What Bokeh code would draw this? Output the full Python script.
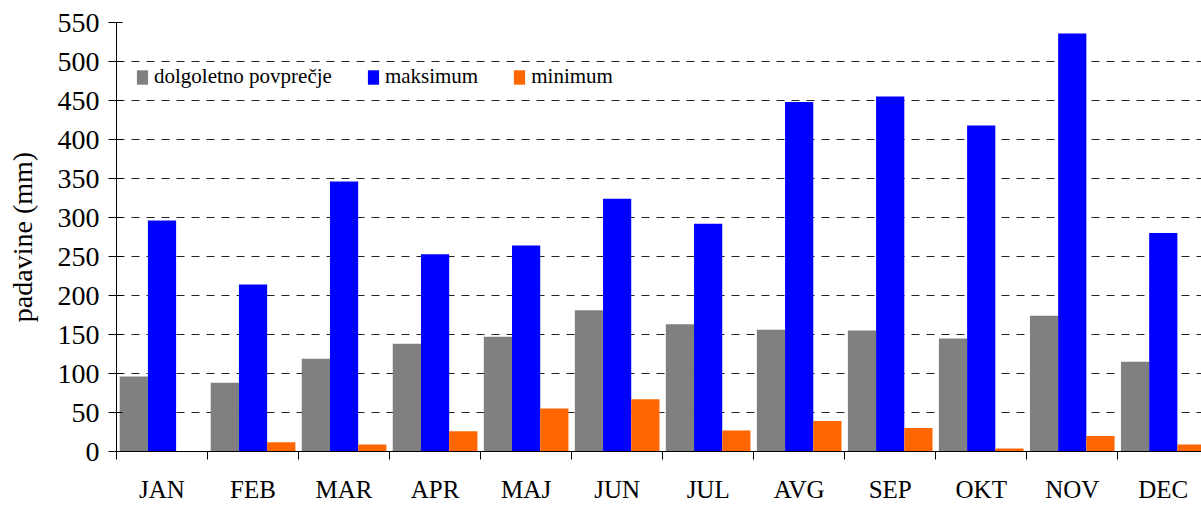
import numpy as np
from bokeh.plotting import figure
from bokeh.models import (ColumnDataSource, FixedTicker, Legend, LegendItem,
                          Range1d, Grid, LinearAxis)
from bokeh.embed import file_html
from bokeh.resources import INLINE

months = ["JAN", "FEB", "MAR", "APR", "MAJ", "JUN", "JUL", "AVG", "SEP", "OKT", "NOV", "DEC"]
avg_vals = [96, 88, 119, 138, 147, 181, 163, 156, 155, 145, 174, 115]
max_vals = [296, 214, 346, 253, 264, 324, 292, 448, 455, 418, 536, 280]
min_vals = [0, 12, 9, 26, 55, 67, 27, 39, 30, 4, 20, 9]
series_names = ["dolgoletno povprečje", "maksimum", "minimum"]
series_colors = ["#808080", "#0000FF", "#FF6600"]
y_ticks = [0, 50, 100, 150, 200, 250, 300, 350, 400, 450, 500, 550]

FONT = "Liberation Serif"

idx = np.arange(len(months))
centers = idx + 0.5
bar_w = 0.31
src = ColumnDataSource(dict(
    x_avg=centers - bar_w, x_max=centers, x_min=centers + bar_w,
    avg=avg_vals, mx=max_vals, mn=min_vals,
))

p = figure(width=1201, height=505, output_backend="svg", toolbar_location=None,
           x_range=Range1d(0, 11.92), y_range=Range1d(0, 550),
           min_border_left=116, min_border_right=0, min_border_top=22,
           min_border_bottom=52, x_axis_type=None, y_axis_type=None)
p.outline_line_color = None
p.background_fill_color = "white"

r_avg = p.vbar(x="x_avg", top="avg", width=bar_w, bottom=0, source=src,
               fill_color=series_colors[0], line_color=None)
r_max = p.vbar(x="x_max", top="mx", width=bar_w, bottom=0, source=src,
               fill_color=series_colors[1], line_color=None)
r_min = p.vbar(x="x_min", top="mn", width=bar_w, bottom=0, source=src,
               fill_color=series_colors[2], line_color=None)

# y axis
yax = LinearAxis(ticker=FixedTicker(ticks=y_ticks))
yax.axis_line_color = "black"
yax.major_tick_line_color = "black"
yax.major_tick_in = 6
yax.major_tick_out = 8
yax.minor_tick_line_color = None
yax.major_label_text_font = FONT
yax.major_label_text_font_size = "28px"
yax.major_label_text_color = "black"
yax.major_label_standoff = 9
yax.axis_label = "padavine (mm)"
yax.axis_label_text_font = FONT
yax.axis_label_text_font_size = "28px"
yax.axis_label_text_font_style = "normal"
yax.axis_label_text_color = "black"
yax.axis_label_standoff = 17
p.add_layout(yax, "left")

# x axis: labels at centers, ticks at boundaries
xax = LinearAxis(ticker=FixedTicker(ticks=list(centers), minor_ticks=list(np.arange(len(months) + 1))))
xax.major_label_overrides = {float(c): m for c, m in zip(centers, months)}
xax.axis_line_color = "black"
xax.major_tick_line_color = None
xax.minor_tick_line_color = "black"
xax.minor_tick_in = 0
xax.minor_tick_out = 8
xax.major_tick_out = 8
xax.major_label_text_font = FONT
xax.major_label_text_font_size = "25px"
xax.major_label_text_color = "black"
xax.major_label_standoff = 16
p.add_layout(xax, "below")

# grid
g = Grid(dimension=1, ticker=FixedTicker(ticks=y_ticks[1:-1]))
g.grid_line_color = "#222222"
g.grid_line_dash = "8 7"
g.grid_line_width = 1
p.add_layout(g)
gtop = Grid(dimension=1, ticker=FixedTicker(ticks=[y_ticks[-1]]))
gtop.grid_line_color = "#808080"
gtop.grid_line_width = 2
p.add_layout(gtop)

legend = Legend(items=[LegendItem(label=series_names[0], renderers=[r_avg]),
                       LegendItem(label=series_names[1], renderers=[r_max]),
                       LegendItem(label=series_names[2], renderers=[r_min])],
                orientation="horizontal", location=(19, 362),
                label_text_font=FONT, label_text_font_size="21px",
                label_text_color="black")
legend.border_line_color = None
legend.background_fill_color = "white"
legend.background_fill_alpha = 1
legend.glyph_width = 14
legend.glyph_height = 18
legend.label_standoff = 5
legend.spacing = 34
legend.padding = 8
legend.margin = 0
p.add_layout(legend, "center")

open("out.html", "w").write(file_html(p, INLINE))
